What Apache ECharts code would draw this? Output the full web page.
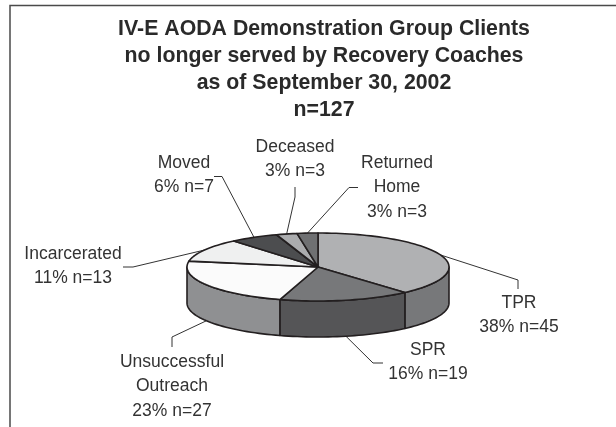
<!DOCTYPE html>
<html>
<head>
<meta charset="utf-8">
<style>html,body{margin:0;padding:0;background:#fff}#c{width:616px;height:427px}</style>
<script src="https://cdn.jsdelivr.net/npm/echarts@6/dist/echarts.min.js"></script>
</head>
<body>
<div id="c"></div>
<script>
const titleLines = ['IV-E AODA Demonstration Group Clients','no longer served by Recovery Coaches','as of September 30, 2002','n=127'];
const categories = ['TPR','SPR','Unsuccessful\nOutreach','Incarcerated','Moved','Deceased','Returned\nHome'];
const percents = [38,16,23,11,6,3,3];
const counts = [45,19,27,13,7,3,3];
const topColors = ['#b0b1b3','#77787a','#fbfbfb','#eff0f0','#4c4d4f','#abacae','#6f7072'];
const sideColors = ['#77787a','#555557','#8f9092','#8f9092','#444','#777','#555'];

// layout (separate from data)
const pie = {cx:318, cy:267, rx:131, ry:34, depth:36};
const labelPos = [[519,303],[428,350],[172,362],[73,254],[184,163],[295,147],[397,163]];
const elbows = [
  [[518,280],[518,289]],
  [[373,363],[383,363]],
  [[172,337],[172,347]],
  [[133,267],[123,267]],
  [[222,176.5],[214,176.5]],
  [[295,197],[295,187]],
  [[349,187.5],[358,187.5]]
];
const lineH = 24.5;
const INK = '#231f20', TEXT = '#333333';

const total = counts.reduce((a,b)=>a+b,0);
const rad = d => d*Math.PI/180;
const pt = (t,dz=0) => [pie.cx+pie.rx*Math.sin(rad(t)), pie.cy-pie.ry*Math.cos(rad(t))+dz];
function arc(a,b,dz=0){
  const n=Math.max(2,Math.ceil(Math.abs(b-a)/2)), out=[];
  for(let i=0;i<=n;i++) out.push(pt(a+(b-a)*i/n,dz));
  return out;
}
function startAngle(i){ let s=0; for(let k=0;k<i;k++) s+=counts[k]; return s/total*360; }

function renderItem(params, api){
  const i = params.dataIndex;
  const a = startAngle(i), b = a + api.value(0)/total*360, mid=(a+b)/2;
  const children = [];
  const lineStyle = {fill:null, stroke:'#333', lineWidth:1};
  const onFront = mid>90 && mid<270;
  const start = pt(mid,onFront?pie.depth:0);
  children.push({type:'polyline',z2:1,shape:{points:[start].concat(elbows[i])},style:lineStyle});
  const sa=Math.max(a,90), sb=Math.min(b,270);
  if(sb>sa){
    const pts=arc(sa,sb).concat(arc(sb,sa,pie.depth));
    children.push({type:'polygon',z2:2,shape:{points:pts},style:{fill:sideColors[i],stroke:INK,lineWidth:1.6,lineJoin:'round'}});
  }
  children.push({type:'polygon',z2:3,shape:{points:[[pie.cx,pie.cy]].concat(arc(a,b))},
    style:{fill:topColors[i],stroke:INK,lineWidth:1.6,lineJoin:'round'}});
  const text = categories[i]+'\n'+percents[i]+'% n='+counts[i];
  children.push({type:'text',z2:4,x:labelPos[i][0],y:labelPos[i][1]-lineH/2,
    style:{text:text,fill:TEXT,font:'17.5px "Liberation Sans", Arial, sans-serif',align:'center',verticalAlign:'top',lineHeight:lineH}});
  return {type:'group',children};
}

const chart = echarts.init(document.getElementById('c'),null,{renderer:'canvas'});
chart.setOption({
  backgroundColor:'#fff',
  animation:false,
  title:{text:titleLines.join('\n'),left:319,top:10,textAlign:'center',
    textStyle:{fontFamily:'"Liberation Sans", Arial, sans-serif',fontSize:21.3,fontWeight:'bold',color:'#2a2a2a',lineHeight:27.3}},
  graphic:[{type:'polyline',silent:true,shape:{points:[[10,427],[10,5.5],[616,5.5]]},style:{fill:null,stroke:'#4a4a4a',lineWidth:1.5}}],
  series:[{type:'custom',coordinateSystem:'none',renderItem,silent:true,
    data:counts.map((v,i)=>({name:categories[i],value:[v]}))}]
});
</script>
</body>
</html>
